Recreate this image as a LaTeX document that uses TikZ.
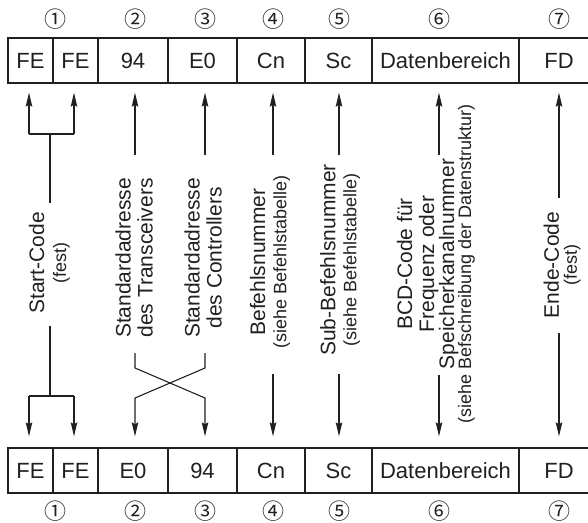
\documentclass[tikz,border=0pt]{standalone}
\usepackage{fontspec}
\setmainfont{Liberation Sans}
\newfontfamily\circfont{Noto Sans CJK JP}
\usetikzlibrary{arrows.meta}
\definecolor{ink}{HTML}{231F20}
\newcommand{\smalltxt}{\fontsize{18}{18}\selectfont}
\begin{document}
\begin{tikzpicture}[x=1pt,y=-1pt,
  cell/.style={draw=ink, line width=1.3pt, minimum height=45pt, inner sep=0pt, text=ink,
    font=\fontsize{22}{22}\selectfont},
  conn/.style={draw=ink, line width=1.1pt},
  arr/.style={conn, -{Stealth[length=14pt,width=6.5pt,inset=2pt]}},
  uparr/.style={arr, shorten >=9pt},
  dnarr/.style={arr, shorten >=11pt},
  lbl/.style={rotate=90, align=center, inner sep=0pt, text=ink,
    font=\fontsize{21}{22}\selectfont},
  num/.style={font=\circfont\fontsize{22}{22}\selectfont, inner sep=0pt, text=ink}
]
\useasboundingbox (0,0) rectangle (588,522);

% ---- top row
\node[cell, minimum width=45pt]  (tFE1) at (30.5,60.5)  {FE};
\node[cell, minimum width=45pt]  (tFE2) at (75.5,60.5)  {FE};
\node[cell, minimum width=70pt]  (t94)  at (133,60.5)   {94};
\node[cell, minimum width=69pt]  (tE0)  at (202.5,60.5) {E0};
\node[cell, minimum width=68pt]  (tCn)  at (271,60.5)   {Cn};
\node[cell, minimum width=67pt]  (tSc)  at (338.5,60.5) {Sc};
\node[cell, minimum width=147pt] (tDat) at (445.5,60.5) {Datenbereich};
\node[cell, minimum width=80pt]  (tFD)  at (559,60.5)   {FD};

% ---- bottom row
\node[cell, minimum width=45pt]  (bFE1) at (30.5,470.5)  {FE};
\node[cell, minimum width=45pt]  (bFE2) at (75.5,470.5)  {FE};
\node[cell, minimum width=70pt]  (bE0)  at (133,470.5)   {E0};
\node[cell, minimum width=69pt]  (b94)  at (202.5,470.5) {94};
\node[cell, minimum width=68pt]  (bCn)  at (271,470.5)   {Cn};
\node[cell, minimum width=67pt]  (bSc)  at (338.5,470.5) {Sc};
\node[cell, minimum width=147pt] (bDat) at (445.5,470.5) {Datenbereich};
\node[cell, minimum width=80pt]  (bFD)  at (559,470.5)   {FD};

% ---- circled numbers
\node[num] (n1t) at (55,19)  {①};
\node[num] (n2t) at (135,19) {②};
\node[num] (n3t) at (205,19) {③};
\node[num] (n4t) at (273,19) {④};
\node[num] (n5t) at (339,19) {⑤};
\node[num] (n6t) at (439,19) {⑥};
\node[num] (n7t) at (559,19) {⑦};
\node[num] (n1b) at (55,511)  {①};
\node[num] (n2b) at (135,511) {②};
\node[num] (n3b) at (205,511) {③};
\node[num] (n4b) at (273,511) {④};
\node[num] (n5b) at (339,511) {⑤};
\node[num] (n6b) at (439,511) {⑥};
\node[num] (n7b) at (559,511) {⑦};

% ---- labels
\node[lbl] (lStart) at (49.5,263) {Start-Code\\{\smalltxt (fest)}};
\node[lbl] (l94) at (134,258) {Standardadresse\\des Transceivers};
\node[lbl] (lE0) at (203,258) {Standardadresse\\des Controllers};
\node[lbl] (lCn) at (270,262) {Befehlsnummer\\[-1pt]{\smalltxt (siehe Befehlstabelle)}};
\node[lbl] (lSc) at (340,260) {Sub-Befehlsnummer\\[-1pt]{\smalltxt (siehe Befehlstabelle)}};
\node[lbl] (lDat) at (436,264) {BCD-Code für\\Frequenz oder\\[-2pt]Speicherkanalnummer\\[-5pt]{\smalltxt (siehe Befschreibung der Datenstruktur)}};
\node[lbl] (lFD) at (562,265) {Ende-Code\\[-4pt]{\smalltxt (fest)}};

% ---- start code bracket
\coordinate (sL1) at (29,134);
\coordinate (sR1) at (74,134);
\coordinate (sM1) at (50,134);
\coordinate (sM1e) at (50,203);
\coordinate (sL2) at (29,396);
\coordinate (sR2) at (74,396);
\coordinate (sM2) at (50,396);
\coordinate (sM2e) at (50,326);
\draw[conn] (sL1) -- (sR1);
\draw[conn] (sM1) -- (sM1e);
\draw[uparr] (sL1) -- (tFE1.south -| sL1);
\draw[uparr] (sR1) -- (tFE2.south -| sR1);
\draw[conn] (sL2) -- (sR2);
\draw[conn] (sM2) -- (sM2e);
\draw[dnarr] (sL2) -- (bFE1.north -| sL2);
\draw[dnarr] (sR2) -- (bFE2.north -| sR2);

% ---- 94 / E0 crossing
\coordinate (a94) at (135,155);
\coordinate (aE0) at (205,155);
\draw[uparr] (a94) -- (t94.south -| a94);
\draw[uparr] (aE0) -- (tE0.south -| aE0);
\coordinate (x94a) at (135,353);
\coordinate (x94b) at (135,368);
\coordinate (x94c) at (205,398);
\coordinate (xE0a) at (205,353);
\coordinate (xE0b) at (205,368);
\coordinate (xE0c) at (135,398);
\draw[dnarr] (x94a) -- (x94b) -- (x94c) -- (b94.north -| x94c);
\draw[dnarr] (xE0a) -- (xE0b) -- (xE0c) -- (bE0.north -| xE0c);

% ---- Cn
\coordinate (aCn) at (273,155);
\coordinate (bCnS) at (273,374);
\draw[uparr] (aCn) -- (tCn.south -| aCn);
\draw[dnarr] (bCnS) -- (bCn.north -| bCnS);
% ---- Sc
\coordinate (aSc) at (339,155);
\coordinate (bScS) at (339,374);
\draw[uparr] (aSc) -- (tSc.south -| aSc);
\draw[dnarr] (bScS) -- (bSc.north -| bScS);
% ---- Datenbereich
\coordinate (aDat) at (439,155);
\coordinate (bDatS) at (439,375);
\draw[uparr] (aDat) -- (tDat.south -| aDat);
\draw[dnarr] (bDatS) -- (bDat.north -| bDatS);
% ---- FD
\coordinate (aFD) at (559,198);
\coordinate (bFDS) at (559,333);
\draw[uparr] (aFD) -- (tFD.south -| aFD);
\draw[dnarr] (bFDS) -- (bFD.north -| bFDS);
\end{tikzpicture}
\end{document}
